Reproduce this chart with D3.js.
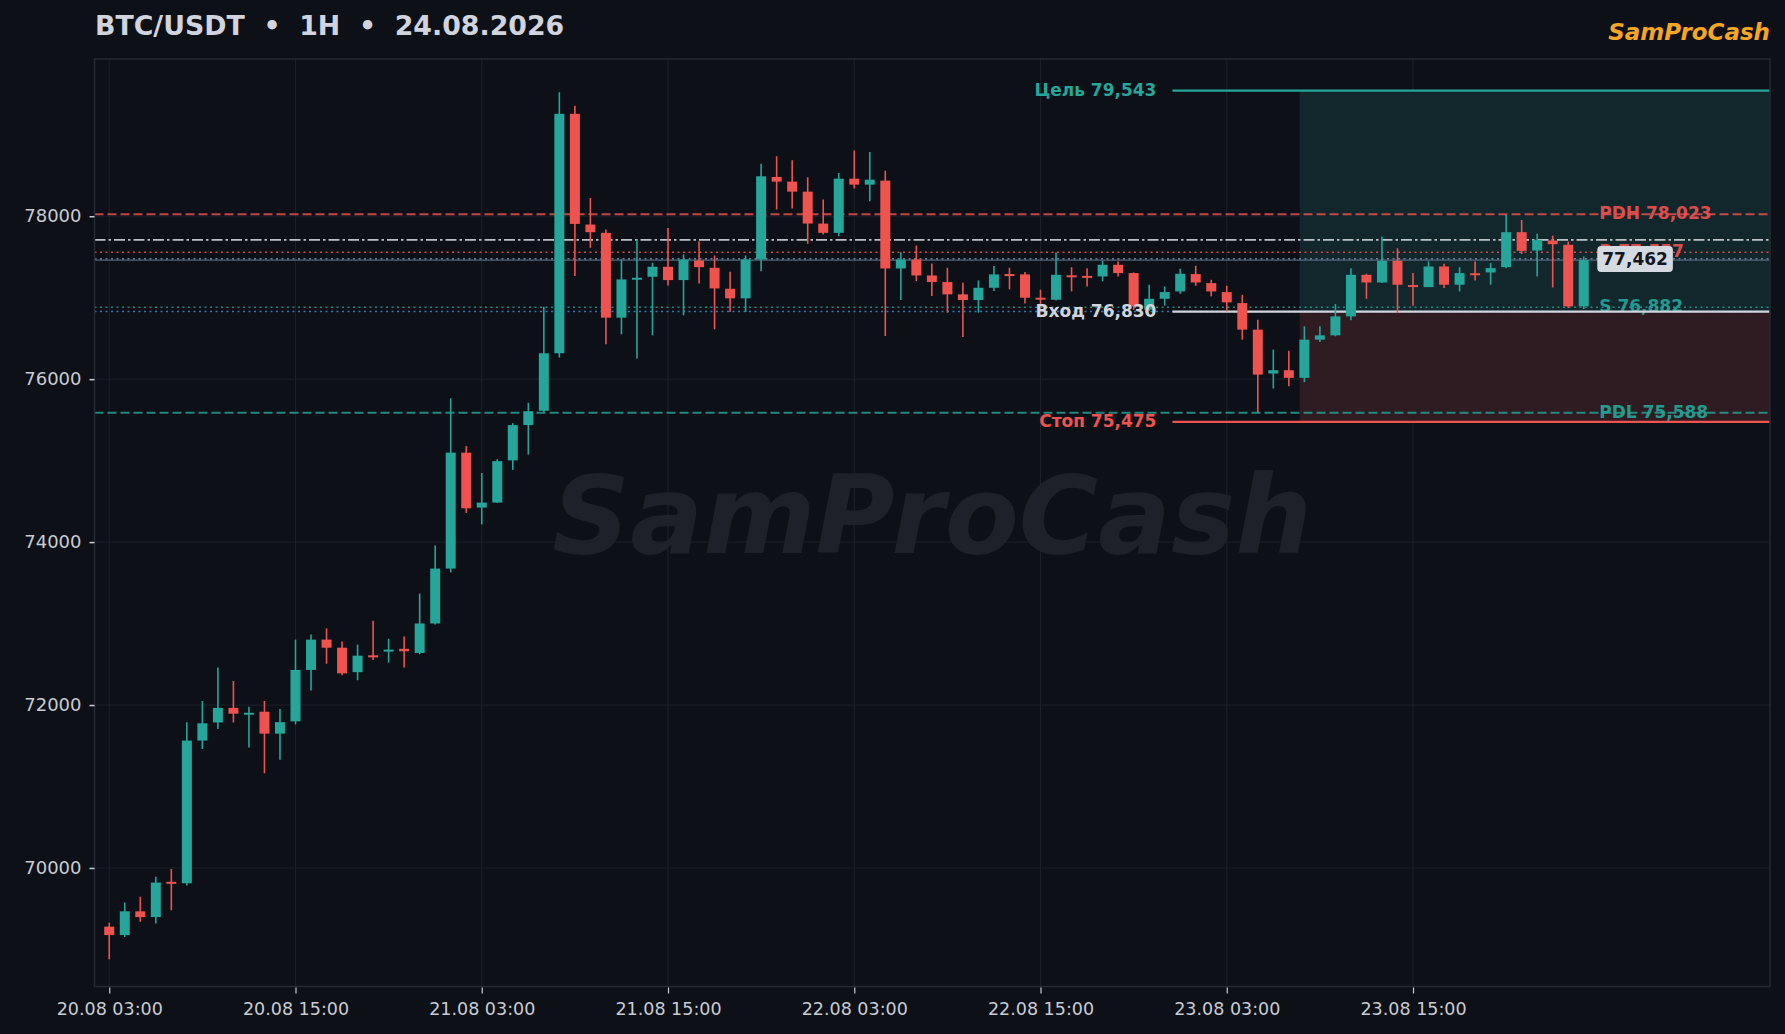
<!DOCTYPE html>
<html>
<head>
<meta charset="utf-8">
<script src="https://cdn.jsdelivr.net/npm/d3@7"></script>
<style>
  html, body { margin: 0; padding: 0; background: #0d1017; }
  svg { display: block; }
  text { font-family: "DejaVu Sans", sans-serif; }
</style>
</head>
<body>
<svg id="chart" width="1785" height="1034"></svg>
<script>
// ---------- DATA ----------
const titleText = "BTC/USDT  •  1H  •  24.08.2026";
const brandText = "SamProCash";
const tickIndex = [0, 12, 24, 36, 48, 60, 72, 84];
const tickLabels = ["20.08 03:00", "20.08 15:00", "21.08 03:00", "21.08 15:00", "22.08 03:00", "22.08 15:00", "23.08 03:00", "23.08 15:00"];
const yTicks = [70000, 72000, 74000, 76000, 78000];

const opens = [69280,69176,69468,69397,69830,69812,71564,71786,71965,71890,71918,71649,71800,72431,72803,72704,72403,72610,72660,72690,
  72639,73001,73675,75098,74424,74485,75003,75437,75612,76318,79257,77898,77796,76755,77230,77257,77380,77216,77457,77367,
  77110,76992,77469,78482,78425,78302,77910,77796,78461,78388,78437,77359,77469,77273,77192,77041,76971,77122,77290,77286,
  77000,76975,77275,77268,77261,77404,77302,76853,76987,77077,77290,77179,77069,76934,76608,76069,76110,76016,76485,76538,
  76771,77281,77187,77453,77155,77130,77383,77159,77300,77310,77375,77804,77579,77702,77649,76894];
const highs = [69327,69577,69647,69892,69986,71790,72050,72460,72295,71979,72050,71951,72803,72865,72940,72780,72742,73034,72813,72841,
  73369,73958,75766,75178,74848,75018,75460,75710,76890,79523,79355,78225,77837,77469,77714,77429,77857,77531,77694,77518,
  77318,77518,78645,78735,78686,78478,78204,78531,78808,78788,78559,77559,77641,77420,77367,77184,77212,77388,77367,77314,
  77098,77555,77375,77363,77453,77445,77310,77159,77138,77355,77392,77220,77147,77036,76730,76363,76350,76649,76649,76922,
  77363,77294,77751,77608,77302,77445,77416,77375,77445,77424,78016,77955,77784,77759,77690,77506];
const lows = [68880,69152,69341,69317,69482,69784,71461,71706,71786,71480,71164,71329,71762,72177,72507,72365,72304,72554,72521,72460,
  72624,72987,73628,74358,74217,74480,74886,75074,75592,76265,77265,77612,76428,76551,76253,76539,77151,76784,77175,76612,
  76824,76824,77326,78082,78094,77661,77775,77755,78339,78184,76530,76971,77204,77020,76816,76518,76816,77082,77102,76930,
  76914,76967,77077,77138,77200,77261,76850,76840,76902,77049,77147,77016,76832,76485,75587,75885,75914,75963,76457,76526,
  76722,76987,77179,76812,76902,77130,77118,77077,77212,77159,77363,77535,77261,77126,76873,76861];
const closes = [69176,69468,69397,69821,69815,71564,71776,71965,71894,71905,71649,71790,72431,72803,72704,72389,72606,72600,72680,72660,
  73001,73675,75098,74415,74485,74994,75437,75606,76318,79257,77906,77804,76755,77224,77245,77380,77216,77469,77375,77114,
  76992,77469,78490,78425,78302,77910,77796,78461,78388,78449,77359,77469,77273,77192,77041,76971,77122,77286,77270,77000,
  76990,77281,77265,77258,77404,77302,76893,76987,77069,77294,77187,77077,76943,76608,76056,76110,76016,76485,76538,76771,
  77281,77187,77453,77159,77145,77383,77159,77302,77290,77363,77804,77575,77710,77657,76894,77462];

// trade setup
const entryPrice = 76830, targetPrice = 79543, stopPrice = 75475;
const setupStart = 68.5, zoneStart = 76.7;
// horizontal levels
const pdh = 78023, pdl = 75588, resist = 77557, support = 76882, pivot = 77710, lastPrice = 77462, lastDotted = 77478;

// ---------- LAYOUT ----------
const svg = d3.select("#chart");
const W = 1785, H = 1034;
const plot = { left: 94.5, right: 1770, top: 59, bottom: 986.5 };
const bg = "#0d1017";
const up = "#26a69a", down = "#ef5350";
const textCol = "#c9ccd3";
const n = opens.length;

svg.append("rect").attr("width", W).attr("height", H).attr("fill", bg);

const x = d3.scaleLinear().domain([-0.95, 107]).range([plot.left, plot.right]);
const y = d3.scaleLinear().domain([68545, 79930]).range([plot.bottom, plot.top]);

// clip
svg.append("defs").append("clipPath").attr("id", "clip")
  .append("rect").attr("x", plot.left).attr("y", plot.top)
  .attr("width", plot.right - plot.left).attr("height", plot.bottom - plot.top);

// grid
const grid = svg.append("g");
grid.selectAll(".vg").data(tickIndex).enter().append("line")
  .attr("x1", d => x(d)).attr("x2", d => x(d)).attr("y1", plot.top).attr("y2", plot.bottom)
  .attr("stroke", "#1d2029").attr("stroke-width", 1);
grid.selectAll(".hg").data(yTicks).enter().append("line")
  .attr("x1", plot.left).attr("x2", plot.right).attr("y1", d => y(d)).attr("y2", d => y(d))
  .attr("stroke", "#1d2029").attr("stroke-width", 1);

// zones
const zones = svg.append("g").attr("clip-path", "url(#clip)");
zones.append("rect").attr("x", x(zoneStart)).attr("width", plot.right - x(zoneStart))
  .attr("y", y(targetPrice)).attr("height", y(entryPrice) - y(targetPrice))
  .attr("fill", "#12272c");
zones.append("rect").attr("x", x(zoneStart)).attr("width", plot.right - x(zoneStart))
  .attr("y", y(entryPrice)).attr("height", y(stopPrice) - y(entryPrice))
  .attr("fill", "#2e1c22");

// watermark
svg.append("text").attr("x", (plot.left + plot.right) / 2).attr("y", 523)
  .attr("text-anchor", "middle").attr("dominant-baseline", "middle")
  .attr("font-size", 108).attr("font-weight", "bold").attr("font-style", "italic")
  .attr("fill", "#1e2129").text(brandText);

// right-side level labels (drawn before lines)
const labelX = x(96);
const lbl = svg.append("g").attr("font-size", 17).attr("font-weight", "bold");
function rlabel(v, t, c) {
  lbl.append("text").attr("x", labelX).attr("y", y(v)).attr("dominant-baseline", "middle")
    .attr("fill", c).attr("opacity", 0.9).text(t);
}
const fmt = d3.format(",");
rlabel(pdh, "PDH " + fmt(pdh), down);
rlabel(resist, "R " + fmt(resist), down);
rlabel(support, "S " + fmt(support), up);
rlabel(pdl, "PDL " + fmt(pdl), up);

// horizontal lines
const lines = svg.append("g").attr("clip-path", "url(#clip)");
function hline(v, c, w, dash, op, x0) {
  lines.append("line").attr("x1", x0 === undefined ? plot.left : x0).attr("x2", plot.right)
    .attr("y1", y(v)).attr("y2", y(v)).attr("stroke", c).attr("stroke-width", w)
    .attr("stroke-dasharray", dash).attr("opacity", op);
}
hline(pdh, down, 2, "9,4", 0.8);
hline(pdl, up, 2, "9,4", 0.8);
hline(pivot, "#d0d3d8", 1.8, "11,3,2.5,3", 0.9);
hline(resist, down, 1.6, "2,3.5", 0.85);
hline(lastPrice, "#5a6f88", 1.3, null, 0.9);
hline(lastDotted, "#7b98b5", 1.6, "2,3.5", 0.8);
hline(support, up, 1.6, "2,3.5", 0.8);
hline(entryPrice, "#3b8ad6", 1.6, "2,3.5", 0.85);

// setup lines
hline(targetPrice, up, 2.2, null, 1, x(setupStart));
hline(stopPrice, down, 2.2, null, 1, x(setupStart));
hline(entryPrice, "#d1d4dc", 2.2, null, 1, x(setupStart));

// candles
const data = d3.range(n).map(i => ({ i, o: opens[i], h: highs[i], l: lows[i], c: closes[i] }));
const bw = 10;
const cg = svg.append("g").attr("clip-path", "url(#clip)");
const cs = cg.selectAll("g.c").data(data).enter().append("g");
cs.append("line").attr("x1", d => x(d.i)).attr("x2", d => x(d.i))
  .attr("y1", d => y(d.h)).attr("y2", d => y(d.l))
  .attr("stroke", d => d.c >= d.o ? up : down).attr("stroke-width", 1.6);
cs.append("rect").attr("x", d => x(d.i) - bw / 2).attr("width", bw)
  .attr("y", d => y(Math.max(d.o, d.c)))
  .attr("height", d => Math.max(2, Math.abs(y(d.o) - y(d.c))))
  .attr("fill", d => d.c >= d.o ? up : down);

// setup labels on the left of the setup lines
const sl = svg.append("g").attr("font-size", 17).attr("font-weight", "bold").attr("text-anchor", "end");
const slX = x(setupStart) - 16;
sl.append("text").attr("x", slX).attr("y", y(targetPrice)).attr("dominant-baseline", "middle").attr("fill", up).text("Цель " + fmt(targetPrice));
sl.append("text").attr("x", slX).attr("y", y(entryPrice)).attr("dominant-baseline", "middle").attr("fill", "#d1d4dc").text("Вход " + fmt(entryPrice));
sl.append("text").attr("x", slX).attr("y", y(stopPrice)).attr("dominant-baseline", "middle").attr("fill", down).text("Стоп " + fmt(stopPrice));

// last price box
const boxG = svg.append("g");
const bt = boxG.append("text").attr("x", labelX + 3).attr("y", y(lastPrice)).attr("dominant-baseline", "middle")
  .attr("font-size", 17).attr("font-weight", "bold").attr("fill", "#131722").text(fmt(lastPrice));
const bb = bt.node().getBBox();
boxG.insert("rect", "text").attr("x", bb.x - 5).attr("y", bb.y - 3).attr("width", bb.width + 10).attr("height", bb.height + 6)
  .attr("rx", 4).attr("fill", "#d5d9e0");

// plot border
svg.append("rect").attr("x", plot.left).attr("y", plot.top)
  .attr("width", plot.right - plot.left).attr("height", plot.bottom - plot.top)
  .attr("fill", "none").attr("stroke", "#252933").attr("stroke-width", 1.5);

// axes
const xAxis = d3.axisBottom(x).tickValues(tickIndex).tickFormat((d, i) => tickLabels[i]).tickSize(6).tickPadding(9);
const xg = svg.append("g").attr("transform", `translate(0,${plot.bottom + 1})`).call(xAxis);
xg.select(".domain").remove();
xg.selectAll("line").attr("stroke", textCol).attr("stroke-width", 1.2);
xg.selectAll("text").attr("fill", textCol).attr("font-size", 17.5).attr("font-family", "DejaVu Sans");

const yAxis = d3.axisLeft(y).tickValues(yTicks).tickFormat(d3.format("d")).tickSize(5).tickPadding(8);
const yg = svg.append("g").attr("transform", `translate(${plot.left},0)`).call(yAxis);
yg.select(".domain").remove();
yg.selectAll("line").attr("stroke", textCol).attr("stroke-width", 1.5);
yg.selectAll("text").attr("fill", textCol).attr("font-size", 18).attr("font-family", "DejaVu Sans");

// title & brand
svg.append("text").attr("x", 95).attr("y", 35).attr("font-size", 26.8).attr("font-weight", "bold")
  .attr("fill", "#d1d4dc").style("white-space", "pre").text(titleText);
svg.append("text").attr("x", 1770).attr("y", 40).attr("text-anchor", "end").attr("font-size", 23)
  .attr("font-weight", "bold").attr("font-style", "italic").attr("fill", "#f5a623").text(brandText);
</script>
</body>
</html>
